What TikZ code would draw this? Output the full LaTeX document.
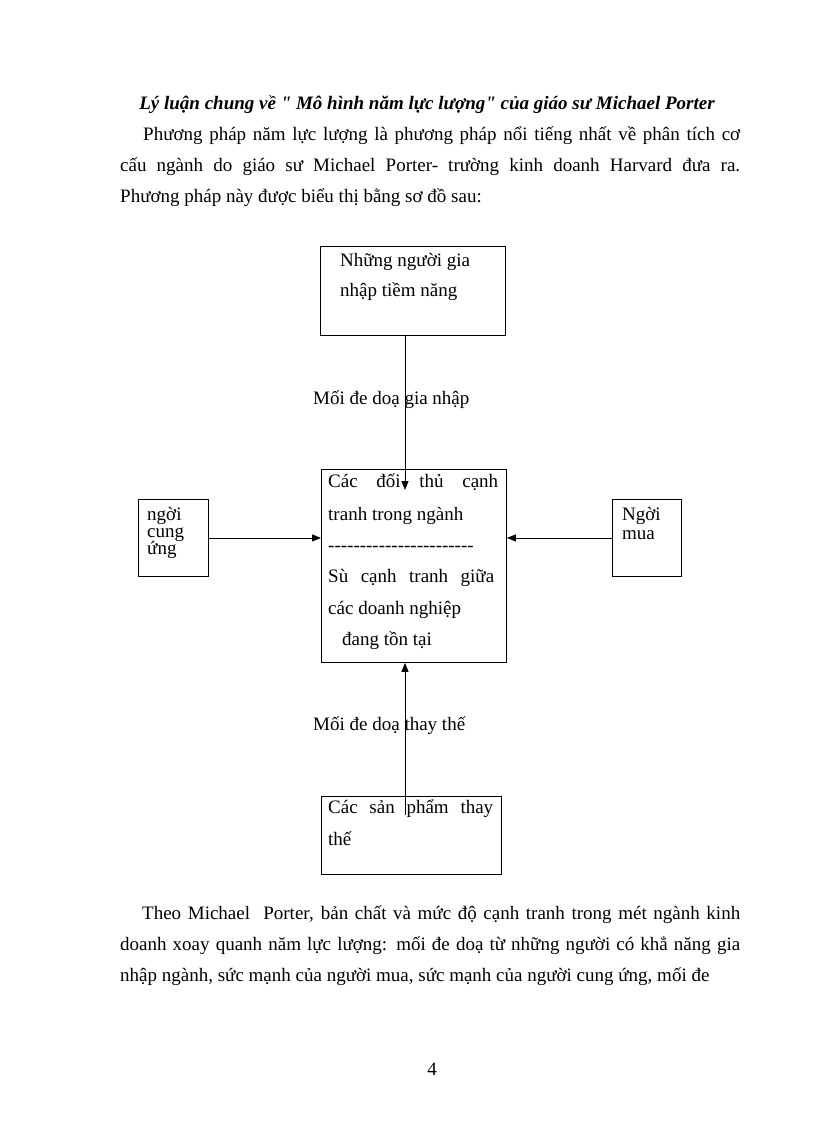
\documentclass[tikz,border=0pt]{standalone}
\usepackage{fontspec}
\setmainfont{Liberation Serif}
\usetikzlibrary{arrows.meta}
\newcommand{\fs}{\fontsize{19}{22}\selectfont}
\newcommand{\dsh}{{-}}
\begin{document}
\begin{tikzpicture}[x=1pt,y=-1pt,
  box/.style={draw, line width=0.9pt, inner sep=0pt, anchor=north west},
  txt/.style={inner sep=0pt, anchor=base west, font=\fs},
  conn/.style={line width=0.9pt, -{Triangle[length=9pt,width=7pt]}}]
\useasboundingbox[fill=white] (0,0) rectangle (816,1123);
% heading and paragraph
\node[txt, font=\fs\bfseries\itshape, anchor=base] (title) at (427,110) {Lý luận chung về \textquotedbl{} Mô hình năm lực lượng\textquotedbl{} của giáo sư Michael Porter};
\node[txt] (p1) at (143,141) {\makebox[597pt][s]{Phương pháp năm lực lượng là phương pháp nổi tiếng nhất về phân tích cơ}};
\node[txt] (p2) at (120,172) {\makebox[620pt][s]{cấu ngành do giáo sư Michael Porter- trường kinh doanh Harvard đưa ra.}};
\node[txt] (p3) at (120,203) {Phương pháp này được biểu thị bằng sơ đồ sau:};
% boxes
\node[box, minimum width=185pt, minimum height=89pt] (entr) at (320,246) {};
\node[box, minimum width=185pt, minimum height=193pt] (rival) at (321,469) {};
\node[box, minimum width=70pt, minimum height=77pt] (supp) at (138,499) {};
\node[box, minimum width=69pt, minimum height=77pt] (buy) at (612,499) {};
\node[box, minimum width=180pt, minimum height=78pt] (subs) at (321,796) {};
% box texts
\node[txt] (e1) at (340,266) {Những người gia};
\node[txt] (e2) at (340,296) {nhập tiềm năng};
\node[txt] (r1) at (328,487) {\makebox[170pt][s]{Các đối thủ cạnh}};
\node[txt] (r2) at (328,520) {tranh trong ngành};
\node[txt] (r3) at (328,551) {\dsh\dsh\dsh\dsh\dsh\dsh\dsh\dsh\dsh\dsh\dsh\dsh\dsh\dsh\dsh\dsh\dsh\dsh\dsh\dsh\dsh\dsh\dsh};
\node[txt] (r4) at (328,582) {\makebox[166pt][s]{Sù cạnh tranh giữa}};
\node[txt] (r5) at (328,614) {các doanh nghiệp};
\node[txt] (r6) at (342,645) {đang tồn tại};
\node[txt] (s1) at (147,520) {ngời};
\node[txt] (s2) at (147,537) {cung};
\node[txt] (s3) at (147,554) {ứng};
\node[txt] (b1) at (622,520) {Ngời};
\node[txt] (b2) at (622,539) {mua};
\node[txt] (u1) at (328,813) {\makebox[165pt][s]{Các sản phẩm thay}};
\node[txt] (u2) at (328,845) {thế};
% connector labels
\node[txt] (l1) at (313,404) {Mối đe doạ gia nhập};
\node[txt] (l2) at (313,730) {Mối đe doạ thay thế};
% connectors
\coordinate (ttip) at (405,490);
\coordinate (bstart) at (405,815);
\draw[conn] (entr.south -| ttip) -- (ttip);
\draw[conn] (bstart) -- (bstart |- rival.south);
\draw[conn] (supp.east) -- (supp.east -| rival.west);
\draw[conn] (buy.west) -- (buy.west -| rival.east);
% closing paragraph
\node[txt] (q1) at (142,919) {\makebox[598pt][s]{Theo Michael\ \ Porter, bản chất và mức độ cạnh tranh trong mét ngành kinh}};
\node[txt] (q2) at (120,950) {\makebox[620pt][s]{doanh xoay quanh năm lực lượng: mối đe doạ từ những người có khẳ năng gia}};
\node[txt] (q3) at (120,981) {nhập ngành, sức mạnh của người mua, sức mạnh của người\ cung ứng, mối đe};
\node[txt, anchor=base] (pg) at (432,1075) {4};
\end{tikzpicture}
\end{document}
